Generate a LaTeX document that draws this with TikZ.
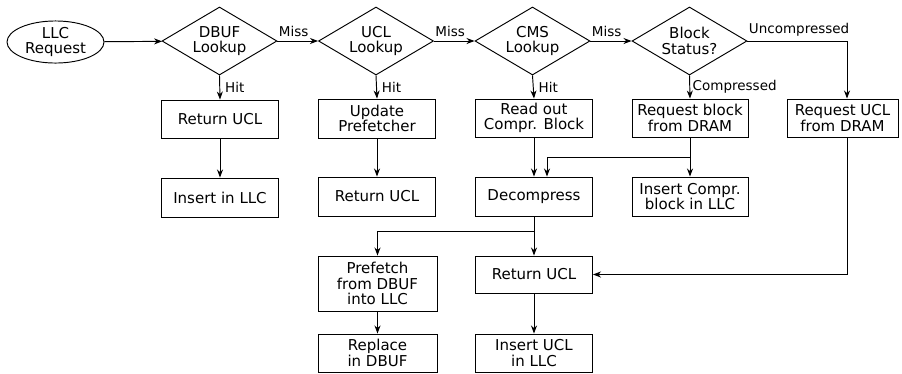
\documentclass[tikz,border=0pt]{standalone}
\usepackage{fontspec}
\setmainfont{DejaVu Sans}
\usetikzlibrary{shapes.geometric,arrows.meta,calc}

\tikzset{
  base/.style={draw, line width=0.95pt, align=center, inner sep=0pt,
    font=\fontsize{15}{15.5}\selectfont},
  procbox/.style={base, rectangle, minimum width=#1, minimum height=38pt},
  procbox/.default=117pt,
  decision/.style={base, diamond, aspect=1.7, minimum width=115pt, minimum height=68pt},
  startnode/.style={base, ellipse, minimum width=97pt, minimum height=42pt},
  flow/.style={line width=0.95pt, -{Stealth[length=8pt,width=6pt,inset=2.5pt]}},
  lbl/.style={font=\fontsize{13.5}{14}\selectfont, inner sep=1pt}
}

\begin{document}
\begin{tikzpicture}[x=1pt, y=-1pt]
  \useasboundingbox (0,0) rectangle (902,373);

  % top row: request and decisions
  \node[startnode] (req) at (55.5,42) {LLC\\Request};
  \node[decision] (dbuf) at (219.5,41) {DBUF\\Lookup};
  \node[decision] (ucl)  at (376,41) {UCL\\Lookup};
  \node[decision] (cms)  at (532.5,41) {CMS\\Lookup};
  \node[decision] (bst)  at (689.5,41) {Block\\Status?};

  % second row
  \node[procbox] (ret1)  at (220,119)   {Return UCL};
  \node[procbox, minimum height=39pt] (upd) at (377,118.5) {Update\\Prefetcher};
  \node[procbox] (read)  at (534,118)   {Read out\\Compr. Block};
  \node[procbox=116pt] (reqb) at (690,118) {Request block\\from DRAM};
  \node[procbox=111pt] (requcl) at (842.5,118) {Request UCL\\from DRAM};

  % third row
  \node[procbox, minimum height=39pt] (ins1) at (220,197.5) {Insert in LLC};
  \node[procbox, minimum height=39pt] (ret2) at (377,196.5) {Return UCL};
  \node[procbox, minimum height=39pt] (dec)  at (534,196.5) {Decompress};
  \node[procbox=116pt, minimum height=39pt] (insc) at (690,196.5) {Insert Compr.\\block in LLC};

  % fourth and fifth rows
  \node[procbox, minimum height=37pt] (retm) at (534,274.5) {Return UCL};
  \node[procbox=119pt, minimum height=55pt] (pref) at (377.5,283.5) {Prefetch\\from DBUF\\into LLC};
  \node[procbox=119pt] (repl) at (377.5,353) {Replace\\in DBUF};
  \node[procbox] (insu) at (534,353) {Insert UCL\\in LLC};

  % helper points
  \coordinate (xr) at (847,0);
  \coordinate (xd) at (547,0);
  \coordinate (brA) at (690,157);
  \coordinate (brB) at (534,231);

  % miss chain
  \draw[flow] (req) -- (dbuf);
  \draw[flow] (dbuf.east) -- node[lbl, pos=0, anchor=south west, yshift=3pt] {Miss} (ucl.west);
  \draw[flow] (ucl.east)  -- node[lbl, pos=0, anchor=south west, yshift=3pt] {Miss} (cms.west);
  \draw[flow] (cms.east)  -- node[lbl, pos=0, anchor=south west, yshift=3pt] {Miss} (bst.west);
  \draw[flow] (bst.east) -| node[lbl, pos=0, anchor=south west, yshift=3pt] {Uncompressed} (requcl.north -| xr);

  % hits
  \draw[flow] (dbuf.south) -- node[lbl, anchor=west, xshift=4pt] {Hit} (ret1.north);
  \draw[flow] (ucl.south)  -- node[lbl, anchor=west, xshift=4pt] {Hit} (upd.north);
  \draw[flow] (cms.south)  -- node[lbl, anchor=west, xshift=4pt] {Hit} (read.north);
  \draw[flow] (bst.south)  -- node[lbl, anchor=west, xshift=1.5pt] {Compressed} (reqb.north);

  % follow-up steps
  \draw[flow] (ret1) -- (ins1);
  \draw[flow] (upd) -- (ret2);
  \draw[flow] (read) -- (dec);
  \draw[flow] (reqb) -- (insc);
  \draw[flow] (brA) -| (dec.north -| xd);
  \draw[flow] (dec) -- (retm);
  \draw[flow] (brB) -| (pref.north);
  \draw[flow] (pref) -- (repl);
  \draw[flow] (retm) -- (insu);
  \draw[flow] (requcl.south -| xr) |- (retm.east);
\end{tikzpicture}
\end{document}
